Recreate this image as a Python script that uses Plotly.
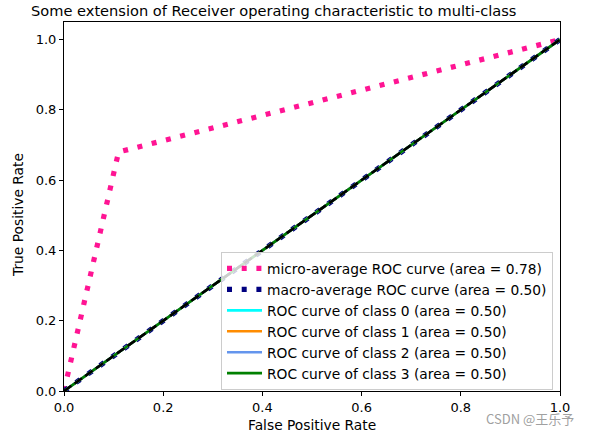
import plotly.graph_objects as go

# Data
fpr_micro = [0.0, 0.11, 1.0]
tpr_micro = [0.0, 0.68, 1.0]
fpr_macro = [0.0, 1.0]
tpr_macro = [0.0, 1.0]
class_names = ["0", "1", "2", "3"]
class_fpr = [[0.0, 1.0], [0.0, 1.0], [0.0, 1.0], [0.0, 1.0]]
class_tpr = [[0.0, 1.0], [0.0, 1.0], [0.0, 1.0], [0.0, 1.0]]
class_auc = [0.50, 0.50, 0.50, 0.50]
micro_auc = 0.78
macro_auc = 0.50
class_colors = ["aqua", "darkorange", "cornflowerblue", "green"]
xticks = [0.0, 0.2, 0.4, 0.6, 0.8, 1.0]
yticks = [0.0, 0.2, 0.4, 0.6, 0.8, 1.0]

FONT = "DejaVu Sans"
W, H = 595, 435
L, T = 64, 22
R, B = W - 560, H - 391
PW, PH = W - L - R, H - T - B


def px_x(p):
    return (p - L) / PW


def px_y(p):
    return (H - B - p) / PH


fig = go.Figure()

fig.add_trace(go.Scatter(x=fpr_micro, y=tpr_micro, mode="lines",
                         line=dict(color="deeppink", width=5.2, dash="5px,9.7px"),
                         name=f"micro-average ROC curve (area = {micro_auc:.2f})"))
fig.add_trace(go.Scatter(x=fpr_macro, y=tpr_macro, mode="lines",
                         line=dict(color="navy", width=5.2, dash="5px,9.7px"),
                         name=f"macro-average ROC curve (area = {macro_auc:.2f})"))
for n, fx, ty, a, c in zip(class_names, class_fpr, class_tpr, class_auc, class_colors):
    fig.add_trace(go.Scatter(x=fx, y=ty, mode="lines",
                             line=dict(color=c, width=2.6),
                             name=f"ROC curve of class {n} (area = {a:.2f})"))
fig.add_trace(go.Scatter(x=[0, 1], y=[0, 1], mode="lines",
                         line=dict(color="black", width=2.6, dash="9px,4px"),
                         showlegend=False, hoverinfo="skip"))

axis_common = dict(showline=True, linecolor="black", linewidth=1, mirror=True,
                   ticks="outside", ticklen=4, tickwidth=1, tickcolor="black",
                   showgrid=False, zeroline=False, automargin=False,
                   tickfont=dict(family=FONT, size=13, color="black"))

fig.update_layout(
    width=W, height=H,
    margin=dict(l=L, r=R, t=T, b=B),
    plot_bgcolor="white", paper_bgcolor="white",
    showlegend=True,
    legend=dict(x=px_x(221), y=px_y(252), xanchor="left", yanchor="top",
                bgcolor="rgba(255,255,255,0.8)", bordercolor="#cccccc", borderwidth=1,
                font=dict(family=FONT, size=13.8, color="black"),
                itemwidth=35, tracegroupgap=0),
    xaxis=dict(range=[0, 1], tickvals=xticks, ticktext=[f"{v:.1f}" for v in xticks],
               **axis_common),
    yaxis=dict(range=[0, 1.05], tickvals=yticks, ticktext=[f"{v:.1f}" for v in yticks],
               **axis_common),
    annotations=[
        dict(text="Some extension of Receiver operating characteristic to multi-class",
             xref="paper", yref="paper", x=px_x(273), y=px_y(10),
             xanchor="center", yanchor="middle", showarrow=False,
             font=dict(family=FONT, size=14.6, color="black")),
        dict(text="False Positive Rate", xref="paper", yref="paper",
             x=px_x(312), y=px_y(425), xanchor="center", yanchor="middle", showarrow=False,
             font=dict(family=FONT, size=13.8, color="black")),
        dict(text="True Positive Rate", xref="paper", yref="paper", textangle=-90,
             x=px_x(18), y=px_y(215), xanchor="center", yanchor="middle", showarrow=False,
             font=dict(family=FONT, size=13.8, color="black")),
        dict(text="CSDN @王乐予", xref="paper", yref="paper",
             x=px_x(530), y=px_y(418),
             xanchor="center", yanchor="middle", showarrow=False,
             font=dict(family="Noto Sans CJK SC", size=13, color="#a0a0a0")),
    ],
)

fig.write_html("out.html",
               config={"displayModeBar": False},
               post_script="document.body.style.margin='0';document.body.style.overflow='hidden';")
